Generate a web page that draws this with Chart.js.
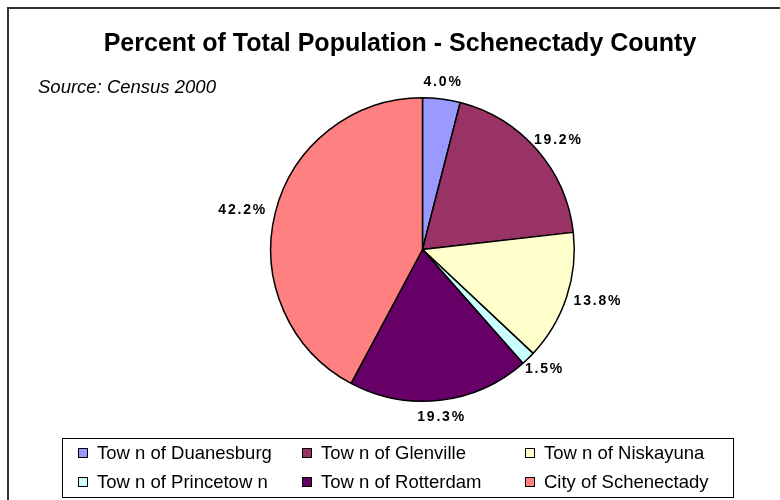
<!DOCTYPE html>
<html>
<head>
<meta charset="utf-8">
<script src="https://cdn.jsdelivr.net/npm/chart.js@4"></script>
<style>
  html, body { margin: 0; padding: 0; background: #fff; }
  #wrap { width: 780px; height: 500px; }
</style>
</head>
<body>
<div id="wrap"><canvas id="popChart" width="780" height="500"></canvas></div>
<script>
const towns = ['Tow n of Duanesburg', 'Tow n of Glenville', 'Tow n of Niskayuna',
               'Tow n of Princetow n', 'Tow n of Rotterdam', 'City of Schenectady'];
const percents = [4.0, 19.2, 13.8, 1.5, 19.3, 42.2];
const sliceColors = ['#9999FF', '#993366', '#FFFFCC', '#CCFFFF', '#660066', '#FF8080'];

const chartTitle = 'Percent of Total Population - Schenectady County';
const sourceNote = 'Source: Census 2000';

const FONT = "'Liberation Sans', Arial, sans-serif";

// frame, title, source note and the boxed legend
const decorPlugin = {
    id: 'decor',
    beforeDraw(chart) {
        const ctx = chart.ctx;
        ctx.save();
        ctx.strokeStyle = '#333';
        ctx.lineWidth = 2;
        ctx.strokeRect(8, 8, 800, 520);
        ctx.restore();
    },
    afterDraw(chart) {
        const ctx = chart.ctx;
        ctx.save();
        ctx.fillStyle = '#000';
        ctx.textBaseline = 'middle';

        ctx.font = 'bold 25px ' + FONT;
        ctx.textAlign = 'center';
        ctx.fillText(chartTitle, 400, 44);

        ctx.font = 'italic 18.5px ' + FONT;
        ctx.textAlign = 'left';
        ctx.fillText(sourceNote, 38, 88);

        // legend box
        ctx.strokeStyle = '#000';
        ctx.lineWidth = 1;
        ctx.strokeRect(62.5, 438.5, 671, 59);
        const colX = [78, 302, 525];
        const rowY = [453, 482];
        ctx.font = '18.5px ' + FONT;
        towns.forEach((name, i) => {
            const x = colX[i % 3];
            const y = rowY[Math.floor(i / 3)];
            ctx.fillStyle = sliceColors[i];
            ctx.fillRect(x, y - 5, 9, 9);
            ctx.strokeRect(x + 0.5, y - 4.5, 9, 9);
            ctx.fillStyle = '#000';
            ctx.fillText(name, x + 19, y + 1);
        });
        ctx.restore();
    }
};

// percentage labels just outside each slice
const sliceLabelPlugin = {
    id: 'sliceLabels',
    afterDatasetsDraw(chart) {
        const ctx = chart.ctx;
        const meta = chart.getDatasetMeta(0);
        ctx.save();
        ctx.font = 'bold 14px ' + FONT;
        ctx.letterSpacing = '1.8px';
        ctx.fillStyle = '#000';
        ctx.textAlign = 'center';
        ctx.textBaseline = 'middle';
        meta.data.forEach((arc, i) => {
            const p = arc.getProps(['x', 'y', 'startAngle', 'endAngle', 'outerRadius'], true);
            const mid = (p.startAngle + p.endAngle) / 2;
            const txt = percents[i].toFixed(1) + '%';
            const w = ctx.measureText(txt).width;
            const r = p.outerRadius + 10;
            const cx = p.x + Math.cos(mid) * (r + w / 2 * Math.abs(Math.cos(mid)));
            const cy = p.y + Math.sin(mid) * (r + 7 * Math.abs(Math.sin(mid)));
            ctx.fillText(txt, cx, cy);
        });
        ctx.restore();
    }
};

new Chart(document.getElementById('popChart'), {
    type: 'pie',
    data: {
        labels: towns,
        datasets: [{
            data: percents,
            backgroundColor: sliceColors,
            borderColor: '#000',
            borderWidth: 1.5
        }]
    },
    options: {
        responsive: false,
        animation: false,
        layout: { padding: { left: 270, right: 205, top: 97, bottom: 98 } },
        plugins: {
            legend: { display: false },
            tooltip: { enabled: false }
        }
    },
    plugins: [decorPlugin, sliceLabelPlugin]
});
</script>
</body>
</html>
